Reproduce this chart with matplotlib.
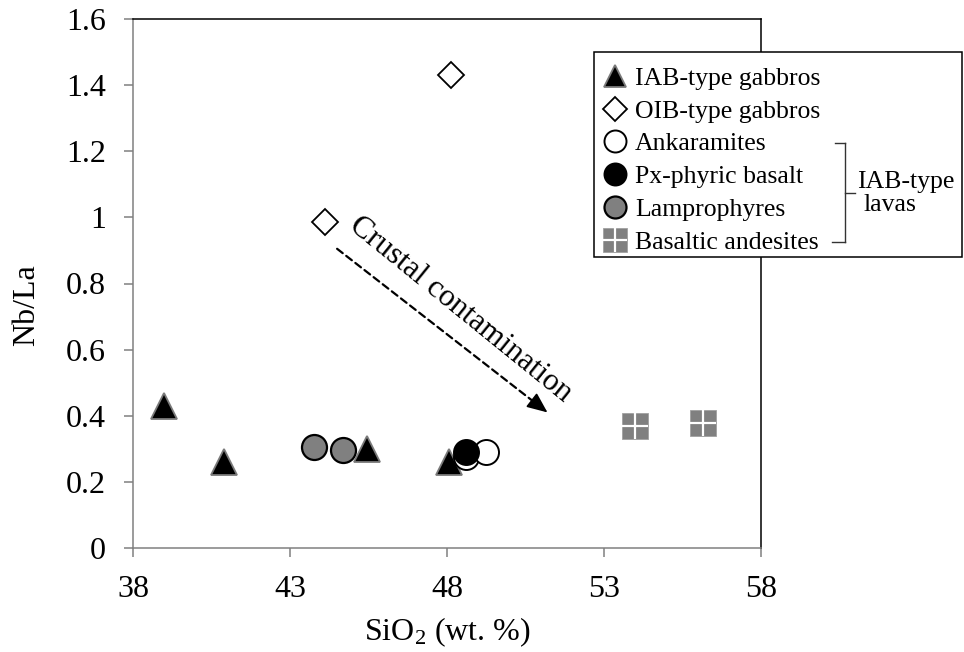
import matplotlib
matplotlib.use("Agg")
import matplotlib.pyplot as plt
from matplotlib.lines import Line2D
from matplotlib.patches import Rectangle
from matplotlib.legend_handler import HandlerTuple
from matplotlib.ticker import FixedLocator, FixedFormatter

plt.rcParams["font.family"] = ["Liberation Serif", "DejaVu Serif"]
plt.rcParams["mathtext.fontset"] = "custom"
plt.rcParams["mathtext.rm"] = "Liberation Serif"
plt.rcParams["mathtext.it"] = "Liberation Serif:italic"

# ---- data: SiO2 (wt. %) and Nb/La ----
iab_gabbro_sio2 = [39.0, 40.9, 45.45, 48.05]
iab_gabbro_nbla = [0.43, 0.26, 0.30, 0.26]

oib_gabbro_sio2 = [48.13, 44.1]
oib_gabbro_nbla = [1.43, 0.985]

ankaramite_sio2 = [48.6, 49.25]
ankaramite_nbla = [0.275, 0.29]

px_basalt_sio2 = [48.6]
px_basalt_nbla = [0.29]

lamprophyre_sio2 = [43.75, 44.7]
lamprophyre_nbla = [0.305, 0.297]

bas_andesite_sio2 = [54.0, 56.15]
bas_andesite_nbla = [0.37, 0.377]

# contamination trend arrow (start, end) in SiO2 / Nb/La
trend_sio2 = [44.5, 51.2]
trend_nbla = [0.905, 0.41]

x_ticks = [38, 43, 48, 53, 58]
y_ticks = [0, 0.2, 0.4, 0.6, 0.8, 1.0, 1.2, 1.4, 1.6]
y_tick_labels = ["0", "0.2", "0.4", "0.6", "0.8", "1", "1.2", "1.4", "1.6"]

W, H = 964, 652
fig = plt.figure(figsize=(W / 100, H / 100), dpi=100)


def fx(p):
    return p / W


def fy(p):
    return 1 - p / H


ax = fig.add_axes([fx(133), fy(548), fx(761) - fx(133), fy(19) - fy(548)])
ax.set_xlim(38, 58)
ax.set_ylim(0, 1.6)

grey = "#808080"
ax.spines["left"].set_color(grey)
ax.spines["bottom"].set_color(grey)
ax.spines["top"].set_color("black")
ax.spines["right"].set_color("black")
for s in ax.spines.values():
    s.set_linewidth(1.1)

ax.xaxis.set_major_locator(FixedLocator(x_ticks))
ax.yaxis.set_major_locator(FixedLocator(y_ticks))
ax.yaxis.set_major_formatter(FixedFormatter(y_tick_labels))
ax.tick_params(axis="both", direction="out", length=6.5, width=1.1, color=grey,
               labelsize=23, labelcolor="black")
ax.tick_params(axis="x", pad=13)
ax.tick_params(axis="y", pad=13)

ax.set_xlabel("SiO$_2$ (wt. %)", fontsize=23, labelpad=8)
ax.set_ylabel("Nb/La", fontsize=23, labelpad=18, y=0.459)

ms_tri = 18.5
ms_circ = 18
ms_dia = 13.5
ms_sq = 19

h_iab, = ax.plot(iab_gabbro_sio2, iab_gabbro_nbla, ls="none", marker="^", ms=ms_tri,
                 mfc="black", mec="#7a7a7a", mew=1.3, zorder=3)
h_oib, = ax.plot(oib_gabbro_sio2, oib_gabbro_nbla, ls="none", marker="D", ms=ms_dia,
                 mfc="white", mec="black", mew=1.3, zorder=3)
h_lam, = ax.plot(lamprophyre_sio2, lamprophyre_nbla, ls="none", marker="o", ms=ms_circ,
                 mfc=grey, mec="black", mew=1.6, zorder=2)
h_ank, = ax.plot(ankaramite_sio2, ankaramite_nbla, ls="none", marker="o", ms=ms_circ,
                 mfc="white", mec="black", mew=1.4, zorder=4)
h_px, = ax.plot(px_basalt_sio2, px_basalt_nbla, ls="none", marker="o", ms=ms_circ,
                mfc="black", mec="black", mew=1.4, zorder=5)
h_sq, = ax.plot(bas_andesite_sio2, bas_andesite_nbla, ls="none", marker="s", ms=ms_sq,
                mfc=grey, mec="#a0a0a0", mew=0.6, zorder=3)
h_sqx, = ax.plot(bas_andesite_sio2, bas_andesite_nbla, ls="none", marker="+", ms=ms_sq,
                 mec="white", mew=1.6, zorder=3.5)

# dashed trend line with a solid arrow head
ax.annotate("", xy=(trend_sio2[1], trend_nbla[1]), xytext=(trend_sio2[0], trend_nbla[0]),
            arrowprops=dict(arrowstyle="-", linestyle=(0, (3.2, 2.0)), lw=1.6,
                            color="black", shrinkA=0, shrinkB=6))
ax.annotate("", xy=(trend_sio2[1], trend_nbla[1]),
            xytext=(trend_sio2[1] - 0.06 * (trend_sio2[1] - trend_sio2[0]),
                    trend_nbla[1] - 0.06 * (trend_nbla[1] - trend_nbla[0])),
            arrowprops=dict(arrowstyle="-|>,head_length=0.7,head_width=0.3", lw=1.2,
                            color="black", shrinkA=0, shrinkB=0, mutation_scale=18))
ax.text(48.42, 0.72, "Crustal contamination", rotation=-39, rotation_mode="anchor",
        ha="center", va="center", fontsize=22.5)

# legend box
ax.add_patch(Rectangle((fx(594), fy(257)), fx(962) - fx(594), fy(52) - fy(257),
                       transform=fig.transFigure, facecolor="white", edgecolor="black",
                       lw=1.1, clip_on=False, zorder=9))

leg_handles = [h_iab, h_oib, h_ank, h_px, h_lam, (h_sq, h_sqx)]
leg_labels = ["IAB-type gabbros", "OIB-type gabbros", "Ankaramites",
              "Px-phyric basalt", "Lamprophyres", "Basaltic andesites"]
leg = ax.legend(leg_handles, leg_labels, loc="upper left",
                bbox_to_anchor=(fx(603), fy(67)), bbox_transform=fig.transFigure,
                borderaxespad=0, borderpad=0, frameon=False,
                fontsize=18.5, markerscale=0.88, handlelength=0.9, handletextpad=0.35,
                labelspacing=0.38,
                handler_map={tuple: HandlerTuple(ndivide=1, pad=0)})
leg.set_zorder(10)

# bracket grouping the lava types
bc = "#333333"
for (x0, y0), (x1, y1) in [((835, 143), (845, 143)), ((845, 143), (845, 242)),
                           ((845, 242), (832, 242)), ((845, 193), (855, 193))]:
    fig.add_artist(Line2D([fx(x0), fx(x1)], [fy(y0), fy(y1)], transform=fig.transFigure,
                          color=bc, lw=1.0, zorder=20))
fig.text(fx(857), fy(182), "IAB-type", fontsize=18.5, va="center", ha="left", zorder=20)
fig.text(fx(864), fy(205), "lavas", fontsize=18.5, va="center", ha="left", zorder=20)

fig.savefig("out.png", dpi=100)
